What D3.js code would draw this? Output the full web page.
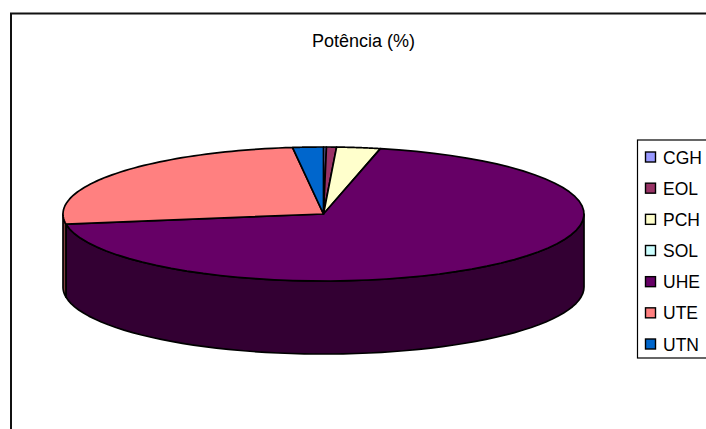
<!DOCTYPE html>
<html><head><meta charset="utf-8">
<script src="https://cdn.jsdelivr.net/npm/d3@7"></script>
<style>html,body{margin:0;padding:0;background:#fff;overflow:hidden}svg{display:block}text{font-family:"Liberation Sans",Arial,sans-serif;fill:#000}</style>
</head><body><div id="c"></div>
<script>
const title = "Potência (%)";
const categories = ["CGH","EOL","PCH","SOL","UHE","UTE","UTN"];
const values = [0.18,0.62,2.7,0.01,69.1,25.5,1.9];
const colors = ["#9999ff","#993366","#ffffcc","#ccffff","#660066","#ff8080","#0066cc"];
const sideColors = ["#4c4c80","#4c1933","#808066","#668080","#330033","#804040","#003366"];

const W=706,H=429,cx=323.5,cy=214,rx=260.5,ry=67,depth=73;
const svg=d3.select("#c").append("svg").attr("width",W).attr("height",H);
svg.append("rect").attr("width",W).attr("height",H).attr("fill","#fff");
svg.append("path").attr("d",`M11,${H}V13.5H${W}`).attr("fill","none").attr("stroke","#111").attr("stroke-width",2);

const arcs=d3.pie().sort(null).value(d=>d)(values).map((a,i)=>({...a,i}));
const px=t=>cx+rx*Math.sin(t), py=t=>cy-ry*Math.cos(t);
const line=d3.line();
const samples=(a,b)=>d3.range(0,61).map(k=>a+(b-a)*k/60);

// side wall: only the front half of the rim is visible
const lo=Math.PI/2, hi=3*Math.PI/2;
arcs.forEach(a=>{
  const s=Math.max(a.startAngle,lo), e=Math.min(a.endAngle,hi);
  if(e<=s) return;
  const top=samples(s,e).map(t=>[px(t),py(t)]);
  const bot=samples(e,s).map(t=>[px(t),py(t)+depth]);
  svg.append("path").attr("d",line(top.concat(bot))+"Z")
    .attr("fill",sideColors[a.i]).attr("stroke","#000").attr("stroke-width",1.7).attr("stroke-linejoin","round");
});
// top face
arcs.forEach(a=>{
  if(a.value<0.05) return;
  const pts=[[cx,cy]].concat(samples(a.startAngle,a.endAngle).map(t=>[px(t),py(t)]));
  svg.append("path").attr("d",line(pts)+"Z")
    .attr("fill",colors[a.i]).attr("stroke","#000").attr("stroke-width",1.7).attr("stroke-linejoin","round");
});

svg.append("text").attr("x",363.5).attr("y",47).attr("text-anchor","middle").attr("font-size",18).text(title);

// legend
svg.append("rect").attr("x",637.5).attr("y",140).attr("width",90).attr("height",218)
  .attr("fill","#fff").attr("stroke","#000").attr("stroke-width",1.2);
const ly=d3.scalePoint().domain(categories).range([157,344]);
categories.forEach((c,i)=>{
  svg.append("rect").attr("x",645.5).attr("y",ly(c)-5).attr("width",10).attr("height",10)
    .attr("fill",colors[i]).attr("stroke","#000").attr("stroke-width",1.4);
  svg.append("text").attr("x",663).attr("y",ly(c)+6.5).attr("font-size",17.5).text(c);
});
</script></body></html>
